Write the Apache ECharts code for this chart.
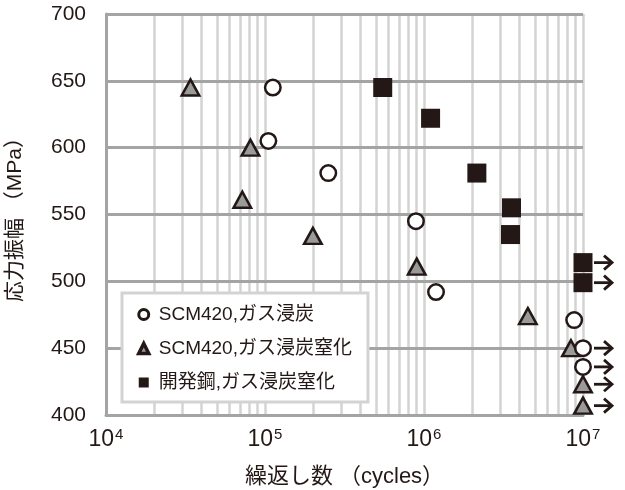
<!DOCTYPE html>
<html>
<head>
<meta charset="utf-8">
<script src="https://cdn.jsdelivr.net/npm/echarts@6/dist/echarts.min.js"></script>
<style>
  html, body { margin: 0; padding: 0; background: #fff; }
  #chart { width: 625px; height: 490px; }
</style>
</head>
<body>
<div id="chart"></div>
<script>
// [cycles, stress MPa]
const scmCarburized = [
  [1.12e5, 645], [1.05e5, 605], [2.5e5, 581], [8.9e5, 545],
  [1.19e6, 492], [8.8e6, 471], [1e7, 450], [1e7, 436]
]
const scmCarbonitrided = [
  [3.4e4, 645], [8.1e4, 600], [7.2e4, 561], [2.0e5, 534], [9.0e5, 511],
  [4.5e6, 474], [8.4e6, 450], [1e7, 423], [1e7, 407]
]
const devSteel = [
  [5.5e5, 645], [1.1e6, 622], [2.15e6, 581], [3.55e6, 555],
  [3.5e6, 535], [1e7, 514], [1e7, 499]
]
// run-outs (not broken at 10^7)
const runouts = [[1e7, 514], [1e7, 499], [1e7, 450], [1e7, 436], [1e7, 423], [1e7, 407]]

const seriesNames = ['SCM420,ガス浸炭', 'SCM420,ガス浸炭窒化', '開発鋼,ガス浸炭窒化']
const yTicks = [400, 450, 500, 550, 600, 650, 700]
const decades = [1e4, 1e5, 1e6]

const minorX = []
decades.forEach(d => { for (let k = 2; k <= 9; k++) minorX.push(k * d) })

const INK = '#231815'
const DARK = '#a4a4a4'
const LIGHT = '#d3d3d3'
const FONT = "'Liberation Sans', 'Noto Sans CJK JP', sans-serif"

const chart = echarts.init(document.getElementById('chart'))

chart.setOption({
  animation: false,
  textStyle: { fontFamily: FONT },
  grid: { left: 106, right: 42, top: 14, bottom: 75, outerBoundsMode: 'none', containLabel: false },
  legend: {
    data: [
      { name: seriesNames[0], itemStyle: { borderWidth: 3 } },
      { name: seriesNames[1], itemStyle: { borderWidth: 3.5 } },
      { name: seriesNames[2] }
    ],
    orient: 'vertical',
    left: 122,
    top: 293,
    z: 10,
    itemWidth: 10,
    itemHeight: 10,
    itemGap: 15,
    padding: [12, 16, 10, 15],
    backgroundColor: '#fff',
    borderColor: LIGHT,
    borderWidth: 3,
    textStyle: { fontSize: 19, color: INK, fontFamily: FONT, padding: [0, 0, 0, 5] }
  },
  xAxis: {
    type: 'log',
    logBase: 10,
    min: 1e4,
    max: 1e7,
    name: '繰返し数 （cycles）',
    nameLocation: 'middle',
    nameGap: 51,
    nameTextStyle: { fontSize: 22, color: INK },
    axisLine: { lineStyle: { color: DARK, width: 3 } },
    axisTick: { show: false },
    splitLine: { show: true, lineStyle: { color: LIGHT, width: 2.5 } },
    axisLabel: {
      margin: 12,
      color: INK,
      formatter: v => '{b|10}{s|' + Math.round(Math.log10(v)) + '}',
      rich: {
        b: { fontSize: 23, color: INK },
        s: { fontSize: 15, color: INK, verticalAlign: 'top', padding: [0, 0, 10, 1] }
      }
    }
  },
  yAxis: {
    type: 'value',
    min: 400,
    max: 700,
    interval: 50,
    name: '応力振幅 （MPa）',
    nameLocation: 'middle',
    nameGap: 80,
    nameTextStyle: { fontSize: 21, color: INK },
    axisLine: { show: true, lineStyle: { color: DARK, width: 3 } },
    axisTick: { show: false },
    splitLine: { show: false },
    axisLabel: { fontSize: 21, color: INK, margin: 20 }
  },
  series: [
    {
      type: 'scatter',
      data: [],
      z: 1,
      silent: true,
      markLine: {
        z: 1,
        silent: true,
        symbol: ['none', 'none'],
        label: { show: false },
        lineStyle: { color: LIGHT, width: 2.5, type: 'solid' },
        data: minorX.map(v => ({ xAxis: v }))
      }
    },
    {
      type: 'scatter',
      data: [],
      z: 1,
      silent: true,
      markLine: {
        z: 1,
        silent: true,
        symbol: ['none', 'none'],
        label: { show: false },
        lineStyle: { color: DARK, width: 3, type: 'solid' },
        data: yTicks.map(v => ({ yAxis: v }))
      }
    },
    {
      type: 'custom',
      z: 3,
      clip: false,
      silent: true,
      data: runouts,
      renderItem: (params, api) => {
        const p = api.coord([api.value(0), api.value(1)])
        const x0 = p[0] + 11
        const x1 = p[0] + 29
        const y = p[1]
        return {
          type: 'group',
          children: [
            { type: 'line', shape: { x1: x0, y1: y, x2: x1, y2: y }, style: { stroke: INK, lineWidth: 2.8 } },
            { type: 'polyline', shape: { points: [[x1 - 8, y - 7], [x1, y], [x1 - 8, y + 7]] }, style: { stroke: INK, lineWidth: 2.8, fill: null } }
          ]
        }
      }
    },
    {
      name: seriesNames[1],
      type: 'scatter',
      z: 4,
      data: scmCarbonitrided,
      symbol: 'triangle',
      symbolSize: [17.5, 16],
      itemStyle: { color: '#9a9a9a', borderColor: INK, borderWidth: 2.5, opacity: 1 }
    },
    {
      name: seriesNames[0],
      type: 'scatter',
      z: 5,
      data: scmCarburized,
      symbol: 'circle',
      symbolSize: 15.5,
      itemStyle: { color: '#fff', borderColor: INK, borderWidth: 2.5, opacity: 1 }
    },
    {
      name: seriesNames[2],
      type: 'scatter',
      z: 5,
      data: devSteel,
      symbol: 'rect',
      symbolSize: 19,
      itemStyle: { color: INK, opacity: 1 }
    }
  ]
})
</script>
</body>
</html>
